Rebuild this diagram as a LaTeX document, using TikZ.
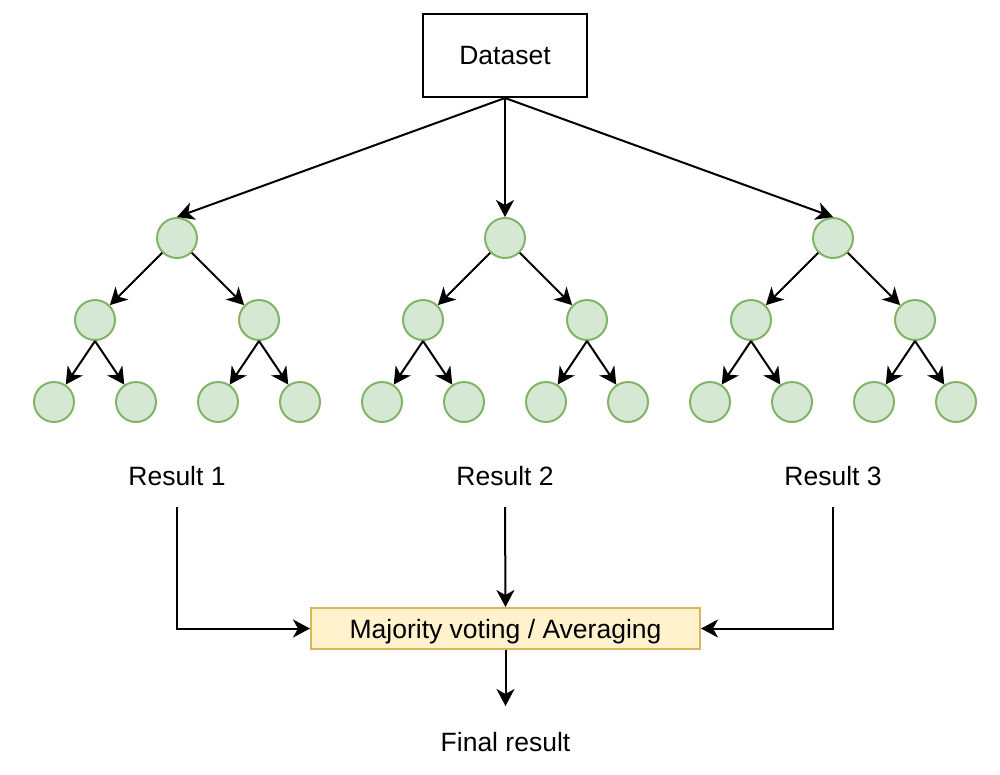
\documentclass[tikz,border=0pt]{standalone}
\usepackage{fontspec}
\setmainfont{Liberation Sans}
\usetikzlibrary{positioning, arrows.meta}
\definecolor{nodefill}{HTML}{D5E8D4}
\definecolor{nodeline}{HTML}{82B366}
\definecolor{votefill}{HTML}{FFF2CC}
\definecolor{voteline}{HTML}{D6B656}
\tikzset{
tree/.style={shape=circle, minimum size=40pt, inner sep=0, draw=nodeline, fill=nodefill}, label/.style={font=\fontsize{26.5}{30}\selectfont, inner sep=0, text depth=0pt}, data/.style={label, draw, minimum width=164pt, minimum height=83pt}, vote/.style={label, draw=voteline, fill=votefill, minimum width=389pt, minimum height=41pt}}

\begin{document}
\begin{tikzpicture}[x=1pt, y=-1pt, line width=2pt, >={Stealth[length=17pt, width=18pt, inset=5pt]}]
\useasboundingbox (0,0) rectangle (1000,774);
\node [data] at (505, 55.5) (dataset) {Dataset};
\foreach \t [count=\j] in {177, 505, 833}{
      \node [tree] at (\t, 238) (r-\j) {};
      \draw [->] (dataset.south) -- (r-\j.north);
      \foreach \s [count=\k] in {-82, 82}{
            \node [tree] at (\t+\s, 320) (m-\j-\k) {};
            \draw [->] (r-\j) -- (m-\j-\k);
            \foreach \u [count=\i] in {-41, 41}{
                  \node [tree] at (\t+\s+\u, 402) (l-\j-\k-\i) {};
                  \draw [->] (m-\j-\k.south) -- (l-\j-\k-\i);
            }
      }
      \node [label, minimum height=60pt] at (\t, 476) (res-\j) {Result \j};
}
\node [vote] at (505.5, 628.5) (avg) {Majority voting / Averaging};
\node [label, minimum height=70pt] at (505.5, 742) (final) {Final result};
\draw [->] (res-1.south) |- (avg.west);
\draw [->] (res-2.south) -- (avg.north);
\draw [->] (res-3.south) |- (avg.east);
\draw [->] (avg) -- (final);
\end{tikzpicture}
\end{document}
